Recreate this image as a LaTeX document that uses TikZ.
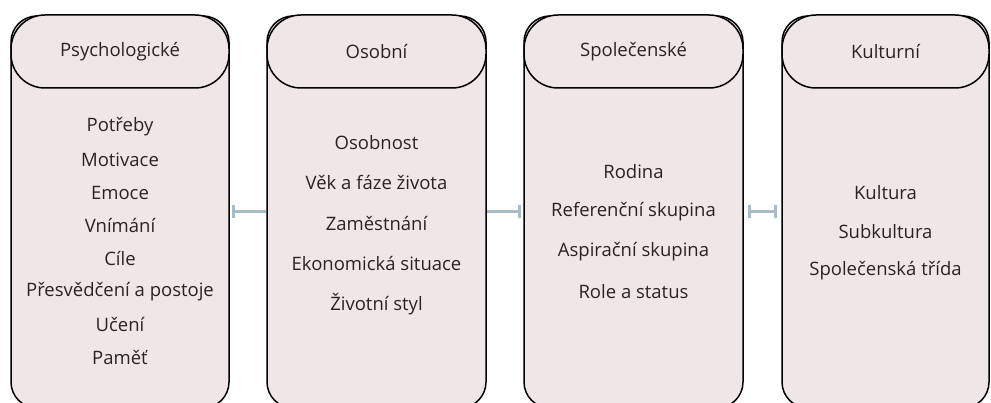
\documentclass[tikz,border=0pt]{standalone}
\usepackage{fontspec}
\setmainfont{Open Sans}
\usetikzlibrary{arrows.meta}
\definecolor{boxfill}{RGB}{239,231,231}
\definecolor{conncol}{RGB}{168,188,198}
\definecolor{txt}{RGB}{40,36,36}
\tikzset{
  body/.style={draw=black, line width=1.5pt, fill=boxfill, rounded corners=26pt, minimum height=392pt, inner sep=0pt},
  head/.style={draw=black, line width=1.5pt, fill=boxfill, rounded corners=34pt, minimum height=73pt, inner sep=0pt, text=txt, font=\fontsize{18.5}{22}\selectfont},
  item/.style={text=txt, font=\fontsize{18.5}{22}\selectfont, inner sep=0pt, anchor=center},
  conn/.style={draw=conncol, line width=3pt},
  bartip/.tip={Bar[width=13pt, line width=3.5pt]}
}
\begin{document}
\begin{tikzpicture}[x=1pt, y=-1pt]
\useasboundingbox (0,0) rectangle (991,403);
\clip (0,0) rectangle (991,403);
% bodies
\node[body, minimum width=218pt] (b1) at (120,212) {};
\node[body, minimum width=219pt] (b2) at (376.5,212) {};
\node[body, minimum width=219pt] (b3) at (633.5,212) {};
\node[body, minimum width=207pt] (b4) at (885.5,212) {};
% headers
\node[head, minimum width=218pt] (h1) at (120,51.5) {Psychologické};
\node[head, minimum width=219pt] (h2) at (376.5,51.5) {Osobní};
\node[head, minimum width=219pt] (h3) at (633.5,51.5) {Společenské};
\node[head, minimum width=207pt] (h4) at (885.5,51.5) {Kulturní};
% items column 1
\node[item] (p1) at (120,127) {Potřeby};
\node[item] (p2) at (120,160) {Motivace};
\node[item] (p3) at (120,193) {Emoce};
\node[item] (p4) at (120,226) {Vnímání};
\node[item] (p5) at (120,259) {Cíle};
\node[item] (p6) at (120,292) {Přesvědčení a postoje};
\node[item] (p7) at (120,325) {Učení};
\node[item] (p8) at (120,358) {Paměť};
% items column 2
\node[item] (o1) at (376.5,143) {Osobnost};
\node[item] (o2) at (376.5,183) {Věk a fáze života};
\node[item] (o3) at (376.5,224) {Zaměstnání};
\node[item] (o4) at (376.5,264) {Ekonomická situace};
\node[item] (o5) at (376.5,304) {Životní styl};
% items column 3
\node[item] (s1) at (633.5,172) {Rodina};
\node[item] (s2) at (633.5,212) {Referenční skupina};
\node[item] (s3) at (633.5,252) {Aspirační skupina};
\node[item] (s4) at (633.5,292) {Role a status};
% items column 4
\node[item] (k1) at (885.5,193) {Kultura};
\node[item] (k2) at (885.5,232) {Subkultura};
\node[item] (k3) at (885.5,271) {Společenská třída};
% connectors
\draw[conn, {bartip}-] ([xshift=2pt]b1.east) -- (b2.west);
\draw[conn, -{bartip}] (b2.east) -- ([xshift=-2pt]b3.west);
\draw[conn, {bartip}-{bartip}] ([xshift=4pt]b3.east) -- ([xshift=-4pt]b4.west);
\end{tikzpicture}
\end{document}
